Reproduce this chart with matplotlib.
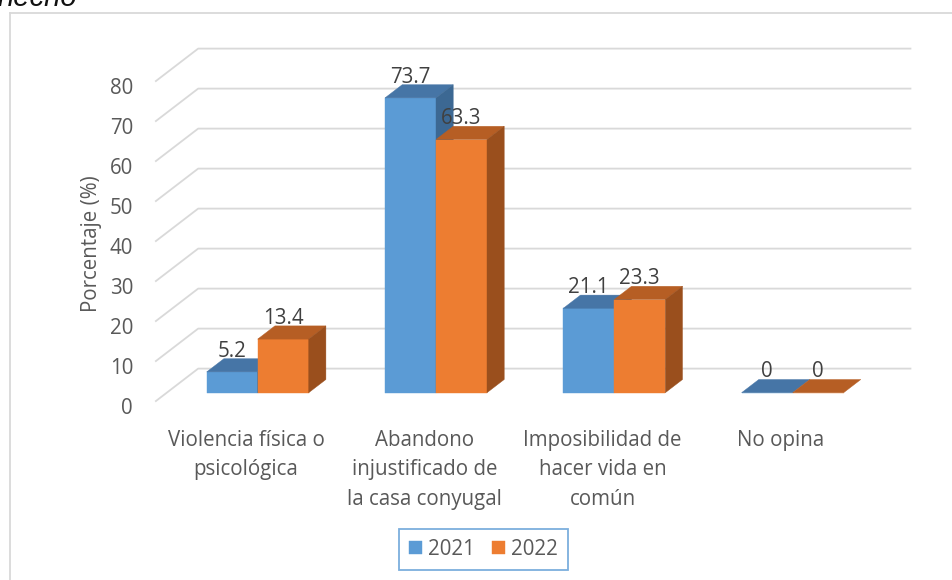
import matplotlib
matplotlib.use("Agg")
import matplotlib.pyplot as plt
from matplotlib.patches import Polygon
from matplotlib.lines import Line2D

# ---------------- data ----------------
categories = [
    "Violencia física o\npsicológica",
    "Abandono\ninjustificado de\nla casa conyugal",
    "Imposibilidad de\nhacer vida en\ncomún",
    "No opina",
]
series_names = ["2021", "2022"]
values_2021 = [5.2, 73.7, 21.1, 0]
values_2022 = [13.4, 63.3, 23.3, 0]
y_ticks = [0, 10, 20, 30, 40, 50, 60, 70, 80]
y_label = "Porcentaje (%)"
caption_fragment = "hecho"

# ---------------- layout / style ----------------
W, H = 952, 580
FONT = "Open Sans"
FS = 14.8
TXT = "#595959"
LBL = "#404040"
GRID = "#D9D9D9"
FRONT = ["#5B9BD5", "#ED7D31"]
TOP = ["#4675A6", "#B65E24"]
SIDE = ["#3C6893", "#9A4F1D"]

X0_PX, PX_PER_CAT = 257.7, 178.3   # category 0 centre on bar front plane
Y0_PX, PX_PER_UNIT = 392.7, 4.0    # value 0 on bar front plane
DX = 43.0 / PX_PER_CAT             # full floor depth (x)
DY = 33.0 / PX_PER_UNIT            # full floor depth (y)
FRONT_D, BACK_D = -0.27, 0.73      # floor front / back wall relative to bar plane
BAR_D = 0.40                       # bar depth fraction
BW = 51.0 / PX_PER_CAT             # bar width
LEFT = -0.51
RIGHT = LEFT + len(categories)


def px2x(px):
    return (px - X0_PX) / PX_PER_CAT


def py2y(py):
    return (Y0_PX - py) / PX_PER_UNIT


fig = plt.figure(figsize=(W / 100, H / 100), dpi=100)
ax = fig.add_axes([0, 0, 1, 1])
ax.set_xlim(px2x(0), px2x(W))
ax.set_ylim(py2y(H), py2y(0))
ax.axis("off")

# chart frame (extends beyond right/bottom edges)
fig.add_artist(Line2D([9.5 / W, 9.5 / W], [0, 1 - 13 / H], color=GRID, lw=1.3))
fig.add_artist(Line2D([9.5 / W, 1], [1 - 13 / H, 1 - 13 / H], color=GRID, lw=1.3))

# caption fragment clipped at the top (as in the reference)
fig.text(-2 / W, 1 - 6 / H, caption_fragment, family="Liberation Sans",
         style="italic", fontsize=21, color="#111111", va="baseline", ha="left")

# gridlines: left wall diagonals + back wall
for v in y_ticks:
    xs = [LEFT + FRONT_D * DX, LEFT + BACK_D * DX, RIGHT + BACK_D * DX]
    ys = [v + FRONT_D * DY, v + BACK_D * DY, v + BACK_D * DY]
    ax.plot(xs, ys, color=GRID, lw=1.3, zorder=1, solid_capstyle="butt")
    ax.text(px2x(133), v - 3.95, f"{v}", ha="right", va="center",
            family=FONT, fontsize=FS, color=TXT)

ax.text(px2x(91.7), py2y(244), y_label, rotation=90, ha="center", va="center",
        family=FONT, fontsize=FS, color=TXT)

# bars
bdx, bdy = BAR_D * DX, BAR_D * DY
for s, vals in enumerate([values_2021, values_2022]):
    lefts = [i - BW + s * BW for i in range(len(categories))]
    ax.bar(lefts, vals, width=BW, align="edge", color=FRONT[s],
           edgecolor=FRONT[s], lw=0.3, zorder=3 + s, label=series_names[s])
    for xl, v in zip(lefts, vals):
        top = [(xl, v), (xl + BW, v), (xl + BW + bdx, v + bdy), (xl + bdx, v + bdy)]
        side = [(xl + BW, 0), (xl + BW + bdx, bdy), (xl + BW + bdx, v + bdy), (xl + BW, v)]
        ax.add_patch(Polygon(top, closed=True, fc=TOP[s], ec=TOP[s], lw=0.3, zorder=3 + s))
        if v > 0:
            ax.add_patch(Polygon(side, closed=True, fc=SIDE[s], ec=SIDE[s], lw=0.3, zorder=3 + s))
        ax.text(xl + BW / 2, v + bdy + 1.9, f"{v:g}", ha="center", va="center",
                family=FONT, fontsize=FS, color=LBL, zorder=10)

# category labels (front edge of floor)
for i, c in enumerate(categories):
    ax.text(i + FRONT_D * DX, py2y(430), c, ha="center", va="top",
            family=FONT, fontsize=FS, color=TXT, linespacing=1.52)

# legend
leg = fig.legend(loc="center", bbox_to_anchor=(483.5 / W, 1 - 549.5 / H), ncol=2,
                 prop={"family": FONT, "size": FS}, labelcolor=TXT,
                 handlelength=0.62, handleheight=0.62, handletextpad=0.3,
                 columnspacing=0.85, borderpad=0.5, fancybox=False, frameon=True)
leg.get_frame().set_edgecolor("#5B9BD5")
leg.get_frame().set_linewidth(1.3)

fig.savefig("out.png", dpi=100)
